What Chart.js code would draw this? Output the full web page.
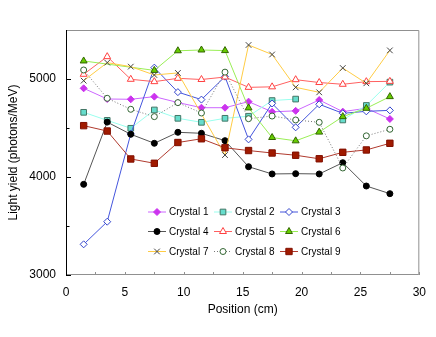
<!DOCTYPE html>
<html>
<head>
<meta charset="utf-8">
<script src="https://cdn.jsdelivr.net/npm/chart.js@4.4.0/dist/chart.umd.min.js"></script>
<style>
    html, body { margin: 0; padding: 0; background: #fff; }
    canvas { display: block; }
</style>
</head>
<body>
<canvas id="chartLightYield" width="436" height="337"></canvas>
<script>
// ============================================================
// Light yield vs position — 9 crystals
// ============================================================

// ── Data ────────────────────────────────────────────────────
const positions = [1.5, 3.5, 5.5, 7.5, 9.5, 11.5, 13.5, 15.5, 17.5, 19.5, 21.5, 23.5, 25.5, 27.5];

const crystal1 = [4905, 4796, 4793, 4820, 4760, 4707, 4707, 4769, 4665, 4675, 4786, 4667, 4701, 4592];
const crystal2 = [4660, 4578, 4497, 4684, 4599, 4558, 4599, 4620, 4780, 4795, null, 4582, 4730, 4968];
const crystal3 = [3313, 3544, 4440, 5116, 4866, 4790, 5024, 4384, 4750, 4507, 4742, 4650, 4670, 4680];
const crystal4 = [3925, 4560, 4436, 4344, 4456, 4446, 4371, 4105, 4031, 4034, 4031, 4146, 3908, 3830];
const crystal5 = [5048, 5228, 4997, 4973, 5007, 4995, 5020, 4915, 4920, 4993, 4964, 4946, 4973, 4976];
const crystal6 = [5184, null, null, 5088, 5288, 5296, 5290, 4705, 4403, 4369, 4458, 4616, 4701, 4820];
const crystal7 = [4983, 5167, 5126, 5041, 5062, null, 4224, 5347, 5250, 4915, 4864, 5112, 4956, 5292];
const crystal8 = [5092, 4803, 4691, 4616, 4759, 4653, 5070, 4595, 4622, 4582, 4558, 4092, 4420, 4487];
const crystal9 = [4524, 4469, 4184, 4140, 4352, 4390, 4298, 4270, 4245, 4222, 4186, 4252, 4276, 4344];

const seriesNames = ['Crystal 1', 'Crystal 2', 'Crystal 3', 'Crystal 4', 'Crystal 5',
                     'Crystal 6', 'Crystal 7', 'Crystal 8', 'Crystal 9'];
const seriesValues = [crystal1, crystal2, crystal3, crystal4, crystal5,
                      crystal6, crystal7, crystal8, crystal9];

const xTicks = [0, 5, 10, 15, 20, 25, 30];
const yTicks = [3000, 4000, 5000];

// ── Styles per series ───────────────────────────────────────
const STYLES = [
    { line: '#cc66ff', fill: '#cc33ee', border: '#cc33ee', point: 'rectRot',  r: 3.5, span: false },
    { line: '#99ffee', fill: '#66ddcc', border: '#447766', point: 'rect',     r: 4,   span: false },
    { line: '#4455dd', fill: '#ffffff', border: '#3344cc', point: 'rectRot',  r: 3.5, span: false },
    { line: '#555555', fill: '#000000', border: '#000000', point: 'circle',   r: 3,   span: false },
    { line: '#ff6060', fill: '#ffffff', border: '#ff4040', point: 'triangle', r: 4,   span: false },
    { line: '#99ee55', fill: '#66cc00', border: '#336600', point: 'triangle', r: 4,   span: true  },
    { line: '#ffcc44', fill: '#444444', border: '#444444', point: 'crossRot', r: 4,   span: true  },
    { line: '#777777', fill: '#ffffff', border: '#336633', point: 'circle',   r: 3,   span: false, dash: [1, 2] },
    { line: '#b03a2e', fill: '#a01a00', border: '#801000', point: 'rect',     r: 4.5, span: false }
];

const FONT = "'Liberation Sans', Arial, Helvetica, sans-serif";

// ── Datasets ────────────────────────────────────────────────
const datasets = seriesValues.map((vals, i) => {
    const s = STYLES[i];
    return {
        label: seriesNames[i],
        data: positions.map((x, j) => ({ x, y: vals[j] })),
        borderColor: s.line,
        borderWidth: 1,
        borderDash: s.dash || [],
        pointStyle: s.point,
        pointRadius: s.r,
        pointBackgroundColor: s.fill,
        pointBorderColor: s.border,
        pointBorderWidth: 1,
        spanGaps: s.span,
        tension: 0,
        fill: false,
        order: 8 - i   // later crystals drawn on top
    };
});

// ── Frame + inward ticks ────────────────────────────────────
const framePlugin = {
    id: 'frame',
    afterDatasetsDraw(chart) {
        const { ctx, chartArea: a, scales } = chart;
        ctx.save();
        ctx.lineWidth = 1;

        // x ticks (every 2.5), gray, pointing up
        ctx.strokeStyle = '#909090';
        for (let v = 0; v <= 30; v += 2.5) {
            const px = Math.round(scales.x.getPixelForValue(v)) + 0.5;
            ctx.beginPath();
            ctx.moveTo(px, a.bottom);
            ctx.lineTo(px, a.bottom - 3);
            ctx.stroke();
        }
        // y ticks (every 500), black, pointing right
        ctx.strokeStyle = '#000';
        for (let v = 3000; v <= 5500; v += 500) {
            const py = Math.round(scales.y.getPixelForValue(v)) + 0.5;
            const len = v % 1000 === 0 ? 5 : 3.5;
            ctx.beginPath();
            ctx.moveTo(a.left, py);
            ctx.lineTo(a.left + len, py);
            ctx.stroke();
        }

        // box: gray top/right/bottom, black left
        ctx.strokeStyle = '#909090';
        ctx.beginPath();
        ctx.moveTo(a.left, a.top + 0.5);
        ctx.lineTo(a.right - 0.5, a.top + 0.5);
        ctx.lineTo(a.right - 0.5, a.bottom - 0.5);
        ctx.lineTo(a.left, a.bottom - 0.5);
        ctx.stroke();
        ctx.strokeStyle = '#000';
        ctx.beginPath();
        ctx.moveTo(a.left + 0.5, a.top);
        ctx.lineTo(a.left + 0.5, a.bottom);
        ctx.stroke();
        ctx.restore();
    }
};

// ── Legend inside plot, 3 x 3 ──────────────────────────────
const LEGEND_COLS = [148, 214, 280];
const LEGEND_ROWS = [211.5, 231, 251];

const legendPlugin = {
    id: 'innerLegend',
    afterDraw(chart) {
        const ctx = chart.ctx;
        ctx.save();
        ctx.font = '10px ' + FONT;
        ctx.textBaseline = 'middle';
        ctx.textAlign = 'left';
        seriesNames.forEach((name, i) => {
            const s = STYLES[i];
            const x = LEGEND_COLS[i % 3];
            const y = LEGEND_ROWS[Math.floor(i / 3)];
            ctx.strokeStyle = s.line;
            ctx.lineWidth = 1;
            ctx.setLineDash(s.dash || []);
            ctx.beginPath();
            ctx.moveTo(x, y + 0.5);
            ctx.lineTo(x + 18, y + 0.5);
            ctx.stroke();
            ctx.setLineDash([]);
            ctx.fillStyle = s.fill;
            ctx.strokeStyle = s.border;
            Chart.helpers.drawPoint(ctx, {
                pointStyle: s.point, radius: s.r, rotation: 0, borderWidth: 1
            }, x + 9, y + 0.5);
            ctx.fillStyle = '#000';
            ctx.fillText(name, x + 21, y + 1);
        });
        ctx.restore();
    }
};

// ── Chart ───────────────────────────────────────────────────
const ctx = document.getElementById('chartLightYield').getContext('2d');

new Chart(ctx, {
    type: 'line',
    data: { datasets },
    plugins: [framePlugin, legendPlugin],
    options: {
        responsive: false,
        animation: false,
        devicePixelRatio: 1,
        layout: { padding: { top: 30, right: 15, left: 0, bottom: 0 } },
        plugins: {
            legend: { display: false },
            tooltip: { enabled: false }
        },
        scales: {
            x: {
                type: 'linear',
                min: 0, max: 30,
                grid: { display: false, drawTicks: false },
                border: { display: false },
                afterBuildTicks: s => { s.ticks = xTicks.map(v => ({ value: v })); },
                afterFit: s => { s.height = 62; },
                ticks: {
                    color: '#000', padding: 10, maxRotation: 0,
                    font: { family: FONT, size: 12 },
                    callback: v => String(v)
                },
                title: {
                    display: true, text: 'Position (cm)', color: '#000',
                    font: { family: FONT, size: 12 }, padding: { top: 0, bottom: 20 }
                }
            },
            y: {
                type: 'linear',
                min: 3000, max: 5500,
                grid: { display: false, drawTicks: false },
                border: { display: false },
                afterBuildTicks: s => { s.ticks = yTicks.map(v => ({ value: v })); },
                afterFit: s => { s.width = 66; },
                ticks: {
                    color: '#000', padding: 10,
                    font: { family: FONT, size: 12 },
                    callback: v => String(v)
                },
                title: {
                    display: true, text: 'Light yield (photons/MeV)', color: '#000',
                    font: { family: FONT, size: 12 }, padding: { top: 6, bottom: 0 }
                }
            }
        }
    }
});
</script>
</body>
</html>
